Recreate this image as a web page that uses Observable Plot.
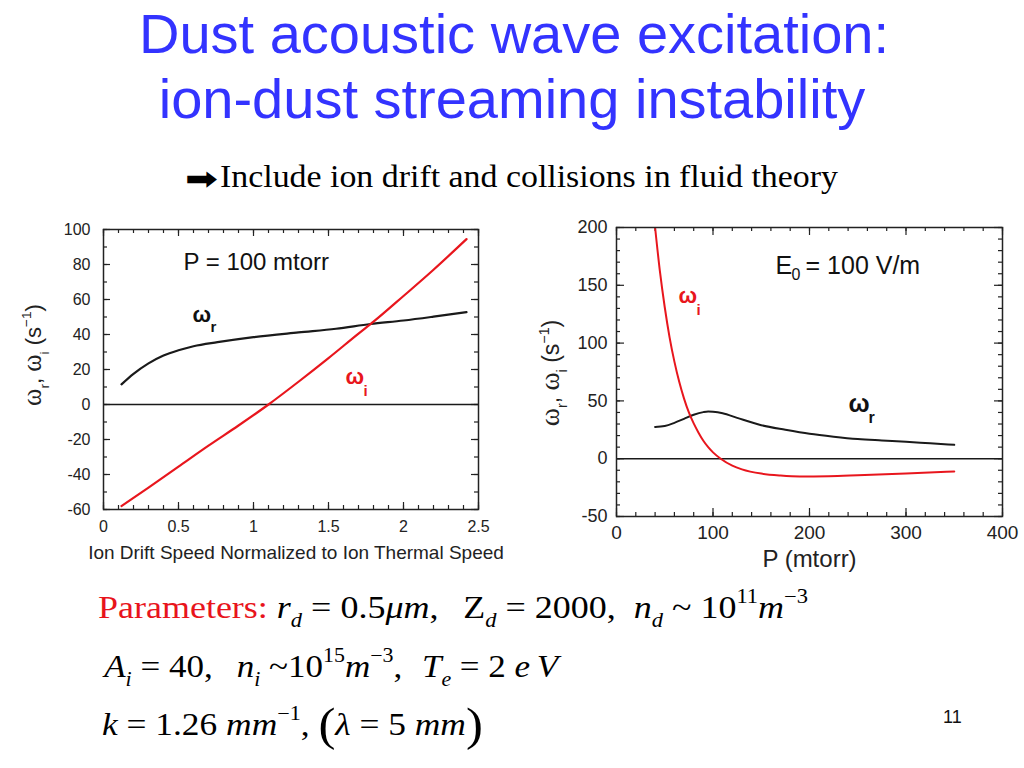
<!DOCTYPE html>
<html><head><meta charset="utf-8">
<script src="https://cdn.jsdelivr.net/npm/d3@7"></script>
<script src="https://cdn.jsdelivr.net/npm/@observablehq/plot@0.6"></script>
<style>
html,body{margin:0;padding:0;background:#fff}
#page{position:relative;width:1024px;height:768px;overflow:hidden;background:#fff}
#slide{position:absolute;left:0;top:0}
#left{position:absolute;left:0;top:210px;width:520px}
#right{position:absolute;left:520px;top:210px;width:504px}
#left svg,#right svg{overflow:visible}
</style></head><body>
<div id="page"><svg id="slide" width="1024" height="768"></svg><div id="left"></div><div id="right"></div></div>
<script>
// ---- data: left panel (P = 100 mtorr), omega vs ion drift speed ----
const driftSpeedR = [0.12, 0.2, 0.3, 0.4, 0.5, 0.6, 0.76, 1.0, 1.3, 1.55, 1.78, 2.0, 2.2, 2.42];
const omegaRDrift = [11.5, 17.5, 23.5, 28, 31, 33.3, 35.6, 38.5, 41.2, 43.3, 46, 48, 50.2, 52.8];
const driftSpeedI = [0.12, 0.3, 0.5, 0.7, 0.9, 1.1, 1.3, 1.5, 1.7, 1.8, 2.0, 2.2, 2.42];
const omegaIDrift = [-58, -47.5, -35.5, -23.5, -12, 0, 13, 26.5, 40.5, 47.3, 62, 77, 94.5];
const driftTicks = [0, 0.5, 1, 1.5, 2, 2.5];
const driftValueTicks = [-60, -40, -20, 0, 20, 40, 60, 80, 100];

// ---- data: right panel (E0 = 100 V/m), omega vs pressure ----
const pressureR = [40, 50, 60, 70, 80, 90, 95, 100, 110, 125, 150, 175, 200, 225, 250, 275, 300, 325, 350];
const omegaRPressure = [27.5, 28.3, 31, 34.5, 38, 40.3, 40.8, 40.6, 39.3, 35.3, 29, 25, 21.5, 19, 17, 15.8, 14.7, 13.3, 12];
const pressureI = [40, 45, 50, 55, 60, 65, 70, 75, 80, 85, 90, 95, 100, 108, 120, 130, 150, 170, 190, 220, 250, 300, 350];
const omegaIPressure = [200, 162, 131, 105, 84, 66.5, 52, 40, 30.5, 22.5, 15.5, 10, 5.5, 0, -6, -9.2, -12.9, -14.6, -15.4, -15.1, -14.3, -12.8, -11];
const pressureTicks = [0, 100, 200, 300, 400];
const pressureValueTicks = [-50, 0, 50, 100, 150, 200];

const RED = "#e8161d";
const INK = "#1a1a1a";
const SANS = "Liberation Sans, Arial, Helvetica, sans-serif";
const SERIF = "Liberation Serif, Times New Roman, serif";

function rows(xs, ys) { return xs.map((x, i) => ({x, y: ys[i]})); }

function frameTicks(xMajor, xMinor, yMajor, yMinor, W, H, maj, min) {
  const s = {stroke: "#222", strokeWidth: 1.2};
  const id = d => d;
  return [
    Plot.tickX(xMinor, {x: id, insetTop: H - min, ...s}),
    Plot.tickX(xMinor, {x: id, insetBottom: H - min, ...s}),
    Plot.tickX(xMajor, {x: id, insetTop: H - maj, ...s}),
    Plot.tickX(xMajor, {x: id, insetBottom: H - maj, ...s}),
    Plot.tickY(yMinor, {y: id, insetRight: W - min, ...s}),
    Plot.tickY(yMinor, {y: id, insetLeft: W - min, ...s}),
    Plot.tickY(yMajor, {y: id, insetRight: W - maj, ...s}),
    Plot.tickY(yMajor, {y: id, insetLeft: W - maj, ...s})
  ];
}

function yLabel(svg, x, y, fs) {
  const t = d3.select(svg).append("text")
    .attr("transform", `translate(${x},${y}) rotate(-90)`)
    .attr("text-anchor", "middle").attr("fill", "#222")
    .attr("font-family", SANS).attr("font-size", fs).attr("style", "white-space:pre");
  t.append("tspan").attr("font-family", SERIF).attr("font-size", fs * 1.2).text("ω");
  t.append("tspan").attr("font-size", fs * 0.62).attr("dy", fs * 0.35).text("r");
  t.append("tspan").attr("dy", -fs * 0.35).text(", ");
  t.append("tspan").attr("font-family", SERIF).attr("font-size", fs * 1.2).text("ω");
  t.append("tspan").attr("font-size", fs * 0.62).attr("dy", fs * 0.35).text("i");
  t.append("tspan").attr("dy", -fs * 0.35).text(" (s");
  t.append("tspan").attr("font-size", fs * 0.62).attr("dy", -fs * 0.45).text("−1");
  t.append("tspan").attr("dy", fs * 0.45).text(")");
}

// ---- left chart ----
const L = {width: 520, height: 360, marginTop: 19, marginRight: 42, marginBottom: 61, marginLeft: 103};
const LH = L.height - L.marginTop - L.marginBottom;
const LW = L.width - L.marginLeft - L.marginRight;
const left = Plot.plot({
  ...L,
  style: {fontFamily: SANS, color: "#222", background: "transparent", overflow: "visible"},
  x: {domain: [0, 2.5]},
  y: {domain: [-60, 100]},
  marks: [
    ...frameTicks(driftTicks, d3.range(0, 2.501, 0.1), driftValueTicks, d3.range(-60, 101, 10), LW, LH, 7, 4),
    Plot.ruleY([0], {stroke: INK, strokeWidth: 1.6}),
    Plot.line(rows(driftSpeedR, omegaRDrift), {x: "x", y: "y", stroke: INK, strokeWidth: 2.2, curve: "monotone-x"}),
    Plot.line(rows(driftSpeedI, omegaIDrift), {x: "x", y: "y", stroke: RED, strokeWidth: 2.2, curve: "monotone-x"}),
    Plot.frame({stroke: "#222", strokeWidth: 1.5}),
    Plot.axisX({ticks: driftTicks, tickSize: 0, tickPadding: 11, tickFormat: d => String(d), fontSize: 16, label: null}),
    Plot.axisY({ticks: driftValueTicks, tickSize: 0, tickPadding: 13, tickFormat: d => String(d), fontSize: 16, label: null}),
    Plot.text(["Ion Drift Speed Normalized to Ion Thermal Speed"], {text: d => d, frameAnchor: "bottom", dx: 5, dy: 49, lineAnchor: "bottom", fontSize: 19, fill: "#222"}),
    Plot.text(["P = 100 mtorr"], {text: d => d, x: 0.533, y: 76.6, textAnchor: "start", lineAnchor: "bottom", fontSize: 24, fill: "#111"}),
    Plot.text(["ω"], {text: d => d, x: 0.593, y: 46.9, textAnchor: "start", lineAnchor: "bottom", fontSize: 22, fontWeight: "bold", fill: "#111"}),
    Plot.text(["r"], {text: d => d, x: 0.593, y: 46.9, dx: 18, dy: 10, textAnchor: "start", lineAnchor: "bottom", fontSize: 15, fontWeight: "bold", fill: "#111"}),
    Plot.text(["ω"], {text: d => d, x: 1.613, y: 12, textAnchor: "start", lineAnchor: "bottom", fontSize: 22, fontWeight: "bold", fill: RED}),
    Plot.text(["i"], {text: d => d, x: 1.613, y: 12, dx: 18, dy: 12, textAnchor: "start", lineAnchor: "bottom", fontSize: 15, fontWeight: "bold", fill: RED})
  ]
});
yLabel(left, 41, 145, 22);
document.getElementById("left").appendChild(left);

// ---- right chart ----
const R = {width: 504, height: 370, marginTop: 17, marginRight: 22, marginBottom: 64, marginLeft: 96};
const RH = R.height - R.marginTop - R.marginBottom;
const RW = R.width - R.marginLeft - R.marginRight;
const right = Plot.plot({
  ...R,
  style: {fontFamily: SANS, color: "#222", background: "transparent", overflow: "visible"},
  x: {domain: [0, 400]},
  y: {domain: [-50, 200]},
  marks: [
    ...frameTicks(pressureTicks, d3.range(0, 401, 20), pressureValueTicks, d3.range(-50, 201, 10), RW, RH, 8, 4),
    Plot.ruleY([0], {stroke: INK, strokeWidth: 1.6}),
    Plot.line(rows(pressureR, omegaRPressure), {x: "x", y: "y", stroke: INK, strokeWidth: 2, curve: "monotone-x"}),
    Plot.line(rows(pressureI, omegaIPressure), {x: "x", y: "y", stroke: RED, strokeWidth: 2, curve: "monotone-x", clip: true}),
    Plot.frame({stroke: "#222", strokeWidth: 1.5}),
    Plot.axisX({ticks: pressureTicks, tickSize: 0, tickPadding: 9, tickFormat: d => String(d), fontSize: 19, label: null}),
    Plot.axisY({ticks: pressureValueTicks, tickSize: 0, tickPadding: 9, tickFormat: d => String(d), fontSize: 18, label: null}),
    Plot.text(["P (mtorr)"], {text: d => d, frameAnchor: "bottom", dy: 50, lineAnchor: "bottom", fontSize: 24, fill: "#222"}),
    Plot.text(["E"], {text: d => d, x: 164.8, y: 160.2, textAnchor: "start", lineAnchor: "bottom", fontSize: 25, fill: "#111"}),
    Plot.text(["0"], {text: d => d, x: 164.8, y: 160.2, dx: 16, dy: 6, textAnchor: "start", lineAnchor: "bottom", fontSize: 16, fill: "#111"}),
    Plot.text(["= 100 V/m"], {text: d => d, x: 164.8, y: 160.2, dx: 30, textAnchor: "start", lineAnchor: "bottom", fontSize: 25, fill: "#111"}),
    Plot.text(["ω"], {text: d => d, x: 64.2, y: 135.1, textAnchor: "start", lineAnchor: "bottom", fontSize: 22, fontWeight: "bold", fill: RED}),
    Plot.text(["i"], {text: d => d, x: 64.2, y: 135.1, dx: 18, dy: 12, textAnchor: "start", lineAnchor: "bottom", fontSize: 15, fontWeight: "bold", fill: RED}),
    Plot.text(["ω"], {text: d => d, x: 240.4, y: 40, textAnchor: "start", lineAnchor: "bottom", fontSize: 25, fontWeight: "bold", fill: "#111"}),
    Plot.text(["r"], {text: d => d, x: 240.4, y: 40, dx: 20, dy: 11, textAnchor: "start", lineAnchor: "bottom", fontSize: 16, fontWeight: "bold", fill: "#111"})
  ]
});
yLabel(right, 39, 163, 23);
document.getElementById("right").appendChild(right);

// ---- slide text ----
const slide = d3.select("#slide");
const title = slide.append("g").attr("font-family", SANS).attr("font-size", 56).attr("fill", "#3333ff").attr("text-anchor", "middle");
title.append("text").attr("x", 514).attr("y", 53).text("Dust acoustic wave excitation:");
title.append("text").attr("x", 512).attr("y", 118).text("ion-dust streaming instability");

slide.append("text").attr("x", 185).attr("y", 189).attr("font-family", "DejaVu Sans, sans-serif").attr("font-size", 30).attr("font-weight", "bold").attr("textLength", 33).attr("lengthAdjust", "spacingAndGlyphs").text("➡");
slide.append("text").attr("x", 220).attr("y", 187).attr("font-family", SERIF).attr("font-size", 31).attr("textLength", 618).attr("lengthAdjust", "spacingAndGlyphs").attr("fill", "#000").text("Include ion drift and collisions in fluid theory");

function mathLine(x0, y, x1, spans) {
  const t = slide.append("text").attr("font-family", SERIF).attr("font-size", 32)
    .attr("fill", "#000").attr("style", "white-space:pre");
  let shift = 0;
  for (const s of spans) {
    const want = s.sub ? 9 : s.sup ? -15 : s.big ? 5 : 0;
    const ts = t.append("tspan").text(s.t);
    if (want !== shift) { ts.attr("dy", want - shift); shift = want; }
    if (s.i) ts.attr("font-style", "italic");
    if (s.sub || s.sup) ts.attr("font-size", 20);
    if (s.big) ts.attr("font-size", 46);
    if (s.fill) ts.attr("fill", s.fill);
    if (s.dx) ts.attr("dx", s.dx);
  }
  const bb = t.node().getBBox();
  const k = (x1 - x0) / bb.width;
  t.attr("transform", `translate(${x0 - bb.x * k},${y}) scale(${k},1)`);
}
mathLine(98, 618, 808, [
  {t: "Parameters: ", fill: "#e8141c"}, {t: "r", i: 1}, {t: "d", i: 1, sub: 1}, {t: " = 0.5"},
  {t: "μm", i: 1}, {t: ","}, {t: "Z", dx: 22}, {t: "d", i: 1, sub: 1}, {t: " = 2000,"},
  {t: "n", i: 1, dx: 16}, {t: "d", i: 1, sub: 1}, {t: " ~ 10"}, {t: "11", sup: 1}, {t: "m", i: 1}, {t: "−3", sup: 1}
]);
mathLine(102, 677, 562, [
  {t: "A", i: 1}, {t: "i", i: 1, sub: 1}, {t: " = 40,"}, {t: "n", i: 1, dx: 22}, {t: "i", i: 1, sub: 1},
  {t: " ~10"}, {t: "15", sup: 1}, {t: "m", i: 1}, {t: "−3", sup: 1}, {t: ","},
  {t: "T", i: 1, dx: 18}, {t: "e", i: 1, sub: 1}, {t: " = 2 "}, {t: "e", i: 1}, {t: "V", i: 1, dx: 6}
]);
mathLine(102, 735, 483, [
  {t: "k", i: 1}, {t: " = 1.26 "}, {t: "mm", i: 1}, {t: "−1", sup: 1}, {t: ", "},
  {t: "(", big: 1}, {t: "λ", i: 1}, {t: " = 5 "}, {t: "mm", i: 1}, {t: ")", big: 1}
]);

slide.append("text").attr("x", 943).attr("y", 723).attr("font-family", SANS).attr("font-size", 18).attr("fill", "#111").text("11");
</script>
</body></html>
